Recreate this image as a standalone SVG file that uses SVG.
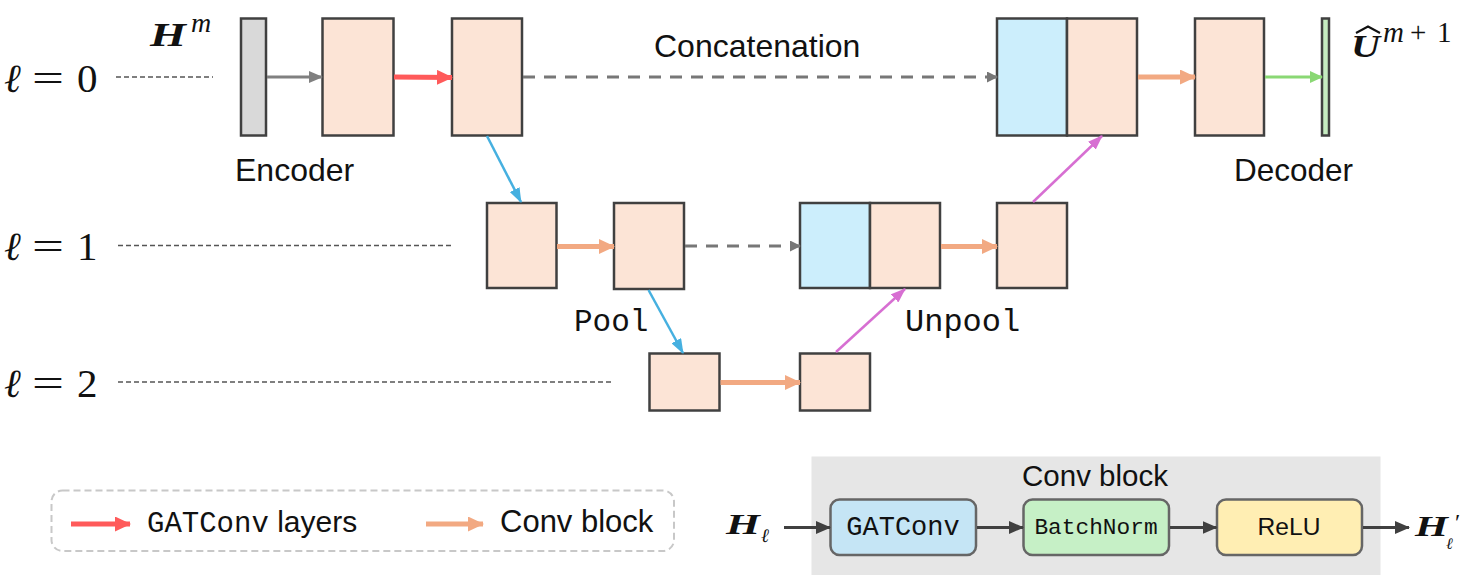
<svg xmlns="http://www.w3.org/2000/svg" width="1466" height="581" viewBox="0 0 1466 581">
<style>
.box{fill:#FCE4D6;stroke:#404040;stroke-width:2.5}
.cat{fill:#CCEEFC;stroke:#404040;stroke-width:2.5}
.guide{stroke:#555;stroke-width:1.5;stroke-dasharray:5 3;fill:none}
.sans{font-family:"Liberation Sans",Arial,sans-serif;fill:#111}
.mono{font-family:"Liberation Mono","Courier New",monospace;fill:#111}
.math{font-family:"Liberation Serif","DejaVu Serif",serif;font-style:normal;font-weight:normal;fill:#111}
.mi{font-family:"DejaVu Serif","Liberation Serif",serif;font-style:italic;font-weight:normal;fill:#111}
.ti{font-family:"Liberation Serif","DejaVu Serif",serif;font-style:italic;font-weight:normal;fill:#111}
.bi{font-family:"Liberation Serif","DejaVu Serif",serif;font-weight:bold;font-style:italic;fill:#111}
.blk{stroke:#666;stroke-width:2.5}
</style>
<defs>
<marker id="hGray" markerUnits="userSpaceOnUse" markerWidth="14" markerHeight="12" refX="13" refY="6" orient="auto"><path d="M0,0 L14,6 L0,12 z" fill="#808080"/></marker>
<marker id="hGraySm" markerUnits="userSpaceOnUse" markerWidth="11" markerHeight="11" refX="10" refY="5.5" orient="auto"><path d="M0,0 L11,5.5 L0,11 z" fill="#777"/></marker>
<marker id="hRed" markerUnits="userSpaceOnUse" markerWidth="16" markerHeight="15" refX="15" refY="7.5" orient="auto"><path d="M0,0 L16,7.5 L0,15 z" fill="#FF5A5A"/></marker>
<marker id="hOr" markerUnits="userSpaceOnUse" markerWidth="16" markerHeight="15" refX="15" refY="7.5" orient="auto"><path d="M0,0 L16,7.5 L0,15 z" fill="#F2A982"/></marker>
<marker id="hGreen" markerUnits="userSpaceOnUse" markerWidth="13" markerHeight="12" refX="12" refY="6" orient="auto"><path d="M0,0 L13,6 L0,12 z" fill="#8AD874"/></marker>
<marker id="hBlue" markerUnits="userSpaceOnUse" markerWidth="15" markerHeight="11" refX="14" refY="5.5" orient="auto"><path d="M0,0 L15,5.5 L0,11 z" fill="#46B0E0"/></marker>
<marker id="hMag" markerUnits="userSpaceOnUse" markerWidth="15" markerHeight="11" refX="14" refY="5.5" orient="auto"><path d="M0,0 L15,5.5 L0,11 z" fill="#D76FD2"/></marker>
<marker id="hDark" markerUnits="userSpaceOnUse" markerWidth="15" markerHeight="13" refX="14" refY="6.5" orient="auto"><path d="M0,0 L15,6.5 L0,13 z" fill="#404040"/></marker>
</defs>

<!-- level labels and guides -->
<g id="levels">
<text class="mi" x="4" y="92" font-size="40">ℓ</text><text class="math" x="32" y="92" font-size="40" textLength="32" lengthAdjust="spacingAndGlyphs">=</text><text class="math" x="77" y="92" font-size="41">0</text>
<text class="mi" x="4" y="260" font-size="40">ℓ</text><text class="math" x="32" y="260" font-size="40" textLength="32" lengthAdjust="spacingAndGlyphs">=</text><text class="math" x="77" y="260" font-size="41">1</text>
<text class="mi" x="4" y="397" font-size="40">ℓ</text><text class="math" x="32" y="397" font-size="40" textLength="32" lengthAdjust="spacingAndGlyphs">=</text><text class="math" x="77" y="397" font-size="41">2</text>
<line class="guide" x1="116" y1="77" x2="213" y2="77"/>
<line class="guide" x1="118" y1="245.5" x2="453" y2="245.5"/>
<line class="guide" x1="118" y1="382" x2="613" y2="382"/>
</g>

<g id="input">
<rect x="241" y="18.5" width="25" height="117" fill="#D9D9D9" stroke="#404040" stroke-width="2.5"/>
<text class="bi" x="150" y="46" font-size="33" textLength="36" lengthAdjust="spacingAndGlyphs">H</text><text class="ti" x="191" y="32" font-size="28">m</text>
</g>
<g id="enc1"><rect class="box" x="322.5" y="18.5" width="71" height="117"/></g>
<g id="enc2"><rect class="box" x="452" y="18.5" width="70" height="117"/></g>
<g id="cat0"><rect class="cat" x="997" y="18.5" width="70" height="117"/><rect class="box" x="1067" y="18.5" width="70" height="117"/></g>
<g id="dec1"><rect class="box" x="1195" y="18.5" width="69" height="117"/></g>
<g id="output">
<rect x="1322" y="18.5" width="7" height="117" fill="#C5EBC0" stroke="#404040" stroke-width="2.5"/>
<text class="bi" x="1351" y="57" font-size="31" textLength="29" lengthAdjust="spacingAndGlyphs">U</text>
<polyline points="1356,33 1368,26.5 1380,33" fill="none" stroke="#111" stroke-width="2"/>
<text x="1383" y="42" font-size="29"><tspan class="ti">m</tspan><tspan class="math" x="1410">+</tspan><tspan class="math" x="1437">1</tspan></text>
</g>
<g id="l1a"><rect class="box" x="487" y="203" width="69.5" height="85"/></g>
<g id="l1b"><rect class="box" x="614" y="203" width="70" height="86"/></g>
<g id="cat1"><rect class="cat" x="800" y="203" width="70" height="85"/><rect class="box" x="870" y="203" width="70" height="85"/></g>
<g id="l1c"><rect class="box" x="997" y="203" width="70" height="85"/></g>
<g id="l2a"><rect class="box" x="649.5" y="353.5" width="70" height="57"/></g>
<g id="l2b"><rect class="box" x="800" y="353.5" width="70" height="57"/></g>

<g id="labels">
<text class="sans" x="654" y="57" font-size="32">Concatenation</text>
<text class="sans" x="235" y="181" font-size="32">Encoder</text>
<text class="sans" x="1234" y="181" font-size="31.5">Decoder</text>
<text class="mono" x="574" y="331" font-size="31">Pool</text>
<text class="mono" x="905" y="331" font-size="32">Unpool</text>
</g>

<g id="connectors">
<line x1="267" y1="77" x2="322" y2="77" stroke="#808080" stroke-width="3" marker-end="url(#hGray)"/>
<line x1="394" y1="77" x2="452" y2="77.5" stroke="#FF5A5A" stroke-width="5" marker-end="url(#hRed)"/>
<line x1="523" y1="77" x2="997" y2="77" stroke="#777" stroke-width="3" stroke-dasharray="12 9" marker-end="url(#hGraySm)"/>
<line x1="1138" y1="77" x2="1195" y2="77" stroke="#F2A982" stroke-width="5" marker-end="url(#hOr)"/>
<line x1="1265" y1="77" x2="1322" y2="77" stroke="#8AD874" stroke-width="3" marker-end="url(#hGreen)"/>
<line x1="487" y1="136" x2="521" y2="202" stroke="#46B0E0" stroke-width="2.5" marker-end="url(#hBlue)"/>
<line x1="557" y1="246.5" x2="614" y2="246.5" stroke="#F2A982" stroke-width="5" marker-end="url(#hOr)"/>
<line x1="685" y1="246" x2="800" y2="246" stroke="#777" stroke-width="3" stroke-dasharray="12 9" marker-end="url(#hGraySm)"/>
<line x1="941" y1="246.5" x2="997" y2="246.5" stroke="#F2A982" stroke-width="5" marker-end="url(#hOr)"/>
<line x1="648.5" y1="290" x2="683" y2="353" stroke="#46B0E0" stroke-width="2.5" marker-end="url(#hBlue)"/>
<line x1="720.5" y1="382.5" x2="800" y2="382.5" stroke="#F2A982" stroke-width="5" marker-end="url(#hOr)"/>
<line x1="836" y1="352" x2="905" y2="289" stroke="#D76FD2" stroke-width="2.5" marker-end="url(#hMag)"/>
<line x1="1033" y1="202" x2="1102" y2="136" stroke="#D76FD2" stroke-width="2.5" marker-end="url(#hMag)"/>
</g>

<g id="legend">
<rect x="51.5" y="490.5" width="622.5" height="60.5" rx="11" fill="none" stroke="#C8C8C8" stroke-width="2" stroke-dasharray="7 4"/>
<line x1="71" y1="524" x2="130" y2="524" stroke="#FF5A5A" stroke-width="5" marker-end="url(#hRed)"/>
<text x="147" y="532" font-size="29"><tspan class="mono">GATConv</tspan><tspan class="sans" font-size="30"> layers</tspan></text>
<line x1="426" y1="524" x2="483" y2="524" stroke="#F2A982" stroke-width="5" marker-end="url(#hOr)"/>
<text class="sans" x="500" y="532" font-size="31">Conv block</text>
</g>

<g id="convblock">
<rect x="811.5" y="456.5" width="569" height="118.5" fill="#E6E6E6"/>
<text class="sans" x="1095" y="486" font-size="29.5" text-anchor="middle">Conv block</text>
<g id="gatconv"><rect class="blk" x="830.5" y="499.5" width="145.5" height="55.5" rx="9" fill="#C5E5F5"/><text class="mono" x="903" y="535" font-size="27" text-anchor="middle">GATConv</text></g>
<g id="batchnorm"><rect class="blk" x="1023.5" y="499.5" width="145.5" height="55.5" rx="9" fill="#C6F0C6"/><text class="mono" x="1096" y="534" font-size="22.8" text-anchor="middle">BatchNorm</text></g>
<g id="relu"><rect class="blk" x="1217" y="499.5" width="145" height="55.5" rx="9" fill="#FFEEB3"/><text class="sans" x="1289" y="535" font-size="24.6" text-anchor="middle">ReLU</text></g>
<g id="cb-connectors">
<line x1="784" y1="527.5" x2="830" y2="527.5" stroke="#404040" stroke-width="3" marker-end="url(#hDark)"/>
<line x1="977" y1="527.5" x2="1023" y2="527.5" stroke="#404040" stroke-width="3" marker-end="url(#hDark)"/>
<line x1="1170" y1="527.5" x2="1216.5" y2="527.5" stroke="#404040" stroke-width="3" marker-end="url(#hDark)"/>
<line x1="1363" y1="527.5" x2="1409" y2="527.5" stroke="#404040" stroke-width="3" marker-end="url(#hDark)"/>
</g>
<text class="bi" x="726" y="534" font-size="29" textLength="34" lengthAdjust="spacingAndGlyphs">H</text><text class="mi" x="761" y="542" font-size="19">ℓ</text>
<text class="bi" x="1415" y="536" font-size="29" textLength="33" lengthAdjust="spacingAndGlyphs">H</text>
<text class="math" x="1455" y="530" font-size="24">′</text>
<text class="mi" x="1446" y="549" font-size="16">ℓ</text>
</g>
</svg>
